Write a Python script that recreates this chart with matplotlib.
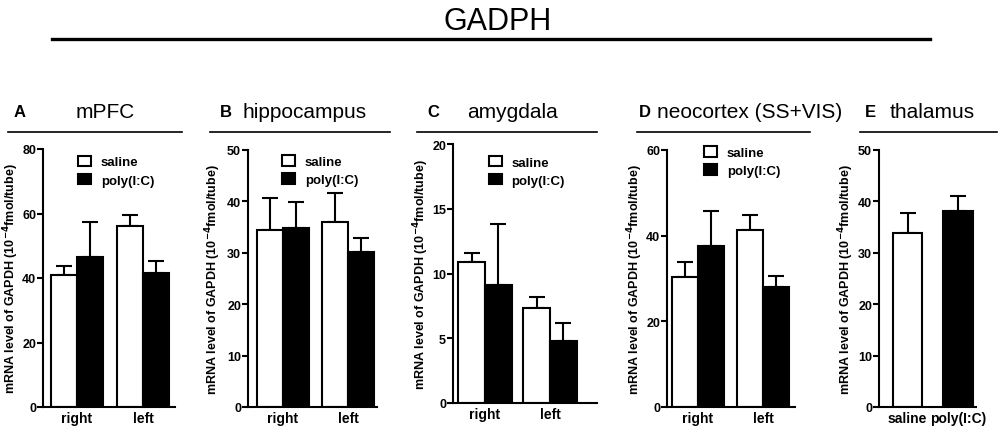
import matplotlib
matplotlib.use("Agg")
import matplotlib.pyplot as plt
from matplotlib.patches import Patch
from matplotlib.lines import Line2D

plt.rcParams['font.family'] = ['Liberation Sans', 'DejaVu Sans']
plt.rcParams['mathtext.default'] = 'bf'

# ---------------- data ----------------
main_title = "GADPH"
panel_letters = ["A", "B", "C", "D", "E"]
regions = ["mPFC", "hippocampus", "amygdala", "neocortex (SS+VIS)", "thalamus"]
sides = ["right", "left"]
groups = ["saline", "poly(I:C)"]

saline_mean = [[41.0, 56.2], [34.5, 35.9], [10.85, 7.3], [30.3, 41.4]]
saline_sem = [[2.8, 3.3], [6.2, 5.8], [0.7, 0.9], [3.6, 3.4]]
polyic_mean = [[46.6, 41.7], [34.8, 30.1], [9.15, 4.8], [37.5, 27.9]]
polyic_sem = [[10.7, 3.7], [5.1, 2.8], [4.65, 1.4], [8.2, 2.7]]

thalamus_mean = [33.9, 38.1]
thalamus_sem = [3.8, 3.0]

y_max = [80, 50, 20, 60, 50]
y_step = [20, 10, 5, 20, 10]

ylabel = r"mRNA level of GAPDH (10$^{-4}$fmol/tube)"

# ---------------- layout (pixels) ----------------
W, H = 1000, 431
fig = plt.figure(figsize=(W / 100, H / 100), dpi=100)

def fx(x):
    return x / W

def fy(y):
    return 1 - y / H

# axes boxes: left, right, top, bottom in px
boxes = [(43, 175, 150, 408), (248, 377, 151, 408), (453, 597, 145, 404),
         (667, 795, 151, 408), (879, 976, 151, 408)]
# bar layout: (pixel of group-0 centre, pixel per unit, bar width in units)
bar_geo = [(77, 66, 0.39), (283, 65, 0.40), (485, 65, 0.41), (698, 65, 0.40),
           (907.5, 50.5, 0.58)]
legend_pos = [(0.227, 0.995), (0.225, 1.0), (0.215, 0.975), (0.25, 1.035)]
ylabel_x = [-0.167, -0.194, -0.153, -0.168, -0.237]

letter_x = [20, 226, 433, 645, 870]
name_x = [105, 305, 512, 750, 932]
header_lines = [(8, 182), (210, 390), (417, 597), (637, 810), (860, 997)]

# title and header lines
fig.text(fx(498), fy(22), main_title, ha='center', va='center', fontsize=22)
fig.add_artist(Line2D([fx(52), fx(930)], [fy(40), fy(40)], color='black', lw=2.4,
                      transform=fig.transFigure))
for i in range(5):
    fig.text(fx(letter_x[i]), fy(113), panel_letters[i], ha='center', va='center',
             fontsize=12, fontweight='bold')
    fig.text(fx(name_x[i]), fy(113), regions[i], ha='center', va='center', fontsize=15)
    x0, x1 = header_lines[i]
    fig.add_artist(Line2D([fx(x0), fx(x1)], [fy(133), fy(133)], color='black', lw=1.2,
                          transform=fig.transFigure))

lw = 1.5
for i in range(5):
    l, r, t, b = boxes[i]
    ax = fig.add_axes([fx(l), fy(b), (r - l) / W, (b - t) / H])
    c0, unit, w = bar_geo[i]
    ax.set_xlim((l - c0) / unit, (r - c0) / unit)
    ax.set_ylim(0, y_max[i])
    if i < 4:
        xs = [0, 1]
        sm, ss = saline_mean[i], saline_sem[i]
        pm, ps = polyic_mean[i], polyic_sem[i]
        for j, x in enumerate(xs):
            ax.errorbar(x - w / 2, sm[j], yerr=[[0], [ss[j]]], fmt='none', ecolor='black',
                        elinewidth=lw, capsize=5.5, capthick=lw, zorder=1)
            ax.errorbar(x + w / 2, pm[j], yerr=[[0], [ps[j]]], fmt='none', ecolor='black',
                        elinewidth=lw, capsize=5.5, capthick=lw, zorder=1)
        ax.bar([x - w / 2 for x in xs], sm, width=w, color='white', edgecolor='black',
               linewidth=lw, zorder=2)
        ax.bar([x + w / 2 for x in xs], pm, width=w, color='black', edgecolor='black',
               linewidth=lw, zorder=2)
        ax.set_xticks(xs)
        ax.set_xticklabels(sides)
        handles = [Patch(facecolor='white', edgecolor='black', linewidth=lw),
                   Patch(facecolor='black', edgecolor='black', linewidth=lw)]
        ax.legend(handles, groups, loc='upper left', bbox_to_anchor=legend_pos[i],
                  frameon=False, borderaxespad=0, handlelength=1.0, handleheight=0.85,
                  handletextpad=0.7, labelspacing=0.4,
                  prop={'weight': 'bold', 'size': 9.5})
    else:
        xs = [0, 1]
        for j, x in enumerate(xs):
            ax.errorbar(x, thalamus_mean[j], yerr=[[0], [thalamus_sem[j]]], fmt='none',
                        ecolor='black', elinewidth=lw, capsize=5.5, capthick=lw, zorder=1)
        ax.bar(xs, thalamus_mean, width=w, color=['white', 'black'], edgecolor='black',
               linewidth=lw, zorder=2)
        ax.set_xticks(xs)
        ax.set_xticklabels(groups)
    ax.set_yticks(range(0, y_max[i] + 1, y_step[i]))
    for s in ['top', 'right']:
        ax.spines[s].set_visible(False)
    for s in ['left', 'bottom']:
        ax.spines[s].set_linewidth(lw)
    ax.tick_params(axis='y', direction='out', length=4, width=lw, pad=1, labelsize=9)
    ax.tick_params(axis='x', length=0, pad=3, labelsize=10)
    for lab in ax.get_xticklabels() + ax.get_yticklabels():
        lab.set_fontweight('bold')
    ax.set_ylabel(ylabel, fontsize=9, fontweight='bold')
    ax.yaxis.set_label_coords(ylabel_x[i], 0.5)

fig.savefig("out.png", dpi=100)
